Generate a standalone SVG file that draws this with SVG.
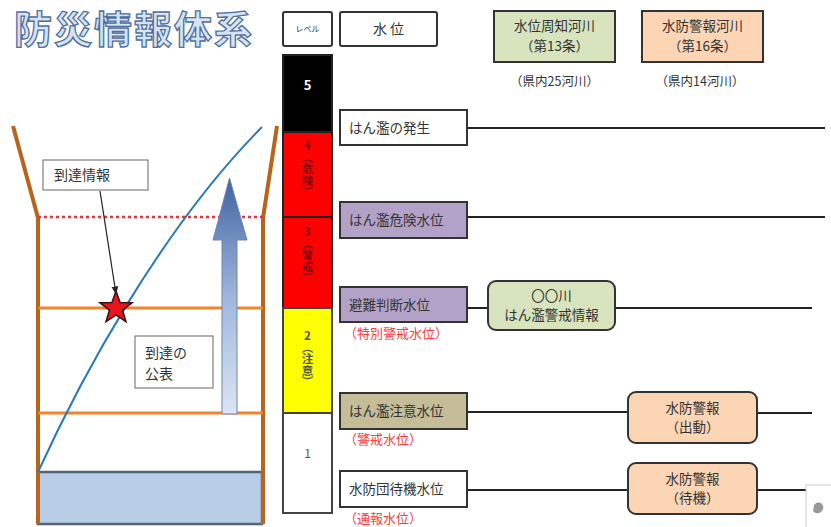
<svg xmlns="http://www.w3.org/2000/svg" width="831" height="527" viewBox="0 0 831 527">
<style>
text{font-family:"Noto Sans CJK JP","Noto Sans CJK SC",sans-serif;fill:#333;}
.box{stroke:#333;stroke-width:2;}
.lbl{font-size:13.5px;}
.red{font-size:13px;fill:#ff3b3b;}
.conn{stroke:#222;stroke-width:2;fill:none;}
.bank{stroke:#b8651b;stroke-width:4;fill:none;}
.orange{stroke:#f0842c;stroke-width:3;}
.vt{writing-mode:vertical-rl;text-orientation:upright;font-size:11.5px;font-weight:bold;}
</style>
<defs>
<linearGradient id="arr" x1="0" y1="0" x2="0" y2="1">
<stop offset="0" stop-color="#3f63a0"/>
<stop offset="0.5" stop-color="#9fb6dc"/>
<stop offset="1" stop-color="#dbe5f3"/>
</linearGradient>
<marker id="ah" viewBox="0 0 10 10" refX="9" refY="5" markerWidth="7" markerHeight="7" orient="auto">
<path d="M0,1 L10,5 L0,9 z" fill="#222"/>
</marker>
</defs>
<rect width="831" height="527" fill="#fff"/>

<g id="title">
<text x="14" y="43" style="font-size:38px;font-weight:bold;fill:#d6e3f3;stroke:#4f6f9f;stroke-width:1.3;letter-spacing:2px">防災情報体系</text>
</g>

<g id="river">
<rect x="38" y="472" width="224" height="52" fill="#b9cde6" stroke="#566478" stroke-width="2.5"/>
<path class="bank" d="M13,126 L38,218 L38,524"/>
<path class="bank" d="M277,126 L263,218 L263,524"/>
<line x1="38" y1="217" x2="263" y2="217" stroke="#e8323c" stroke-width="2.5" stroke-dasharray="3,3"/>
<line class="orange" x1="38" y1="308" x2="263" y2="308"/>
<line class="orange" x1="38" y1="413" x2="263" y2="413"/>
<path d="M38,472 C80,380 160,230 262,127" stroke="#2a7ab8" stroke-width="2" fill="none"/>
</g>

<g id="arrow-big">
<path d="M222,414 L222,240 L213,240 L229.5,178 L247,240 L237,240 L237,414 z" fill="url(#arr)" stroke="#6c86b4" stroke-width="1"/>
</g>

<g id="star">
<path d="M116,291 L120.1,302.4 L132.2,302.7 L122.6,310.2 L126,321.8 L116,315 L106,321.8 L109.4,310.2 L99.8,302.7 L111.9,302.4 z" fill="#e8141c" stroke="#3a1010" stroke-width="1.5"/>
</g>

<g id="n-arrival-info">
<rect x="43" y="160" width="105" height="30" fill="#fff" stroke="#666" stroke-width="1"/>
<text x="54" y="180" style="font-size:14px">到達情報</text>
</g>

<g id="n-arrival-pub">
<rect x="135" y="336" width="78" height="52" fill="#fff" stroke="#666" stroke-width="1"/>
<text x="145" y="358" style="font-size:14px">到達の</text>
<text x="145" y="379" style="font-size:14px">公表</text>
</g>

<g id="n-level-head">
<rect x="283" y="12" width="49" height="34" rx="2" fill="#fff" class="box"/>
<text x="307.5" y="32" text-anchor="middle" style="font-size:8px">レベル</text>
</g>
<g id="n-wl-head">
<rect x="340" y="12" width="97" height="34" rx="2" fill="#fff" class="box"/>
<text x="388.5" y="34" text-anchor="middle" style="font-size:14px">水 位</text>
</g>

<g id="levels">
<rect x="283" y="55" width="49" height="77" fill="#000" stroke="#222" stroke-width="2"/>
<text x="307.5" y="90" text-anchor="middle" style="font-size:13px;fill:#fff;font-weight:bold">5</text>
<rect x="283" y="132" width="49" height="85" fill="#ff0000" stroke="#222" stroke-width="2"/>
<text class="vt" x="307.5" y="140" style="fill:#8a0000">4（危険）</text>
<rect x="283" y="217" width="49" height="91" fill="#ff0000" stroke="#222" stroke-width="2"/>
<text class="vt" x="307.5" y="226" style="fill:#8a0000">3（警戒）</text>
<rect x="283" y="308" width="49" height="105" fill="#ffff00" stroke="#444" stroke-width="2"/>
<text class="vt" x="307.5" y="330" style="fill:#555">2（注意）</text>
<rect x="283" y="413" width="49" height="100" fill="#fff" stroke="#444" stroke-width="2"/>
<text x="307.5" y="458" text-anchor="middle" style="font-size:12px;fill:#555">1</text>
</g>

<g id="n-river13">
<rect x="494" y="11" width="121" height="51" fill="#d7e4bd" class="box"/>
<text x="554.5" y="31" text-anchor="middle" class="lbl">水位周知河川</text>
<text x="554.5" y="51" text-anchor="middle" class="lbl">（第13条）</text>
</g>
<text x="554.5" y="86" text-anchor="middle" style="font-size:12.5px">（県内25河川）</text>
<g id="n-river16">
<rect x="642" y="11" width="121" height="51" fill="#fcd5b5" class="box"/>
<text x="702.5" y="31" text-anchor="middle" class="lbl">水防警報河川</text>
<text x="702.5" y="51" text-anchor="middle" class="lbl">（第16条）</text>
</g>
<text x="700" y="86" text-anchor="middle" style="font-size:12.5px">（県内14河川）</text>

<g id="connectors">
<line class="conn" x1="467" y1="128" x2="825" y2="128"/>
<line class="conn" x1="467" y1="217" x2="825" y2="217"/>
<line class="conn" x1="467" y1="308" x2="488" y2="308"/>
<line class="conn" x1="615" y1="308" x2="812" y2="308"/>
<line class="conn" x1="467" y1="412" x2="628" y2="412"/>
<line class="conn" x1="757" y1="413" x2="812" y2="413"/>
<line class="conn" x1="467" y1="490" x2="628" y2="490"/>
<line class="conn" x1="757" y1="490" x2="808" y2="490"/>
<line x1="100" y1="191" x2="116" y2="294" stroke="#222" stroke-width="1.2" marker-end="url(#ah)"/>
</g>

<g id="n-flood">
<rect x="340" y="110" width="127" height="35" fill="#fff" class="box"/>
<text x="349" y="133" class="lbl">はん濫の発生</text>
</g>
<g id="n-danger">
<rect x="340" y="202" width="127" height="36" fill="#b3a2c7" class="box"/>
<text x="349" y="225" class="lbl">はん濫危険水位</text>
</g>
<g id="n-evac">
<rect x="340" y="287" width="127" height="35" fill="#b3a2c7" class="box"/>
<text x="349" y="310" class="lbl">避難判断水位</text>
<text x="344" y="338" class="red">（特別警戒水位）</text>
</g>
<g id="n-caution">
<rect x="340" y="393" width="127" height="36" fill="#c4bd97" class="box"/>
<text x="349" y="416" class="lbl">はん濫注意水位</text>
<text x="344" y="444" class="red">（警戒水位）</text>
</g>
<g id="n-standby">
<rect x="340" y="471" width="127" height="36" fill="#fff" class="box"/>
<text x="349" y="494" class="lbl">水防団待機水位</text>
<text x="344" y="523" class="red">（通報水位）</text>
</g>

<g id="n-warning-info">
<rect x="488" y="281" width="127" height="49" rx="8" fill="#d7e4bd" class="box"/>
<text x="551.5" y="301" text-anchor="middle" class="lbl">〇〇川</text>
<text x="551.5" y="320" text-anchor="middle" class="lbl">はん濫警戒情報</text>
</g>
<g id="n-suibou-shutsudo">
<rect x="628" y="392" width="129" height="51" rx="8" fill="#fcd5b5" class="box"/>
<text x="692.5" y="413" text-anchor="middle" class="lbl">水防警報</text>
<text x="692.5" y="432" text-anchor="middle" class="lbl">（出動）</text>
</g>
<g id="n-suibou-taiki">
<rect x="628" y="463" width="129" height="51" rx="8" fill="#fcd5b5" class="box"/>
<text x="692.5" y="484" text-anchor="middle" class="lbl">水防警報</text>
<text x="692.5" y="503" text-anchor="middle" class="lbl">（待機）</text>
</g>

<g id="corner">
<rect x="806" y="485" width="30" height="50" fill="#fff" stroke="#ccc" stroke-width="1"/>
<path d="M814,505 q4,-5 8,-1 q3,4 -1,8 q-5,3 -8,-1 z" fill="#999"/>
</g>
</svg>
